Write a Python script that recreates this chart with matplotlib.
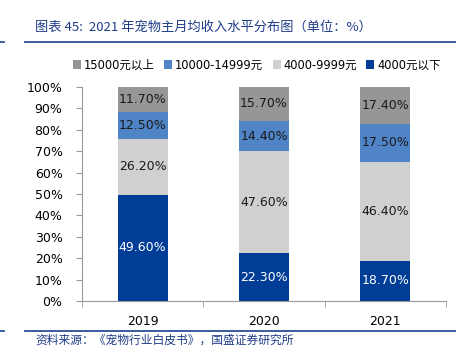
import matplotlib
matplotlib.use("Agg")
import matplotlib.pyplot as plt
from matplotlib.lines import Line2D
from matplotlib.patches import Patch
import numpy as np

plt.rcParams['font.family'] = ['DejaVu Sans', 'Noto Sans CJK SC']

years = ["2019", "2020", "2021"]
series_names = ["15000元以上", "10000-14999元", "4000-9999元", "4000元以下"]
below_4000 = [49.6, 22.3, 18.7]
mid_4000_9999 = [26.2, 47.6, 46.4]
mid_10000_14999 = [12.5, 14.4, 17.5]
above_15000 = [11.7, 15.7, 17.4]
yticks = [0, 10, 20, 30, 40, 50, 60, 70, 80, 90, 100]

colors = {
    "4000元以下": "#003d97",
    "4000-9999元": "#d0d0d0",
    "10000-14999元": "#4f84c6",
    "15000元以上": "#969696",
}
label_colors = {
    "4000元以下": "white",
    "4000-9999元": "#1a1a1a",
    "10000-14999元": "#1a1a1a",
    "15000元以上": "#1a1a1a",
}

fig = plt.figure(figsize=(4.69, 3.49), dpi=100)
ax = fig.add_axes([82 / 469, 48 / 349, 364 / 469, 214 / 349])

x = np.arange(len(years))
stack = [("4000元以下", below_4000), ("4000-9999元", mid_4000_9999),
         ("10000-14999元", mid_10000_14999), ("15000元以上", above_15000)]
bottom = np.zeros(len(years))
for name, vals in stack:
    vals = np.array(vals) / 100.0
    ax.bar(x, vals, 0.41, bottom=bottom, color=colors[name], zorder=2)
    for xi, b, v in zip(x, bottom, vals):
        ax.text(xi, b + v / 2, f"{v * 100:.2f}%", ha="center", va="center",
                fontsize=9, color=label_colors[name], zorder=3)
    bottom = bottom + vals

ax.set_xlim(-0.5, len(years) - 0.5)
ax.set_ylim(0, 1)
ax.set_yticks([t / 100 for t in yticks])
ax.set_yticklabels([f"{t}%" for t in yticks], fontsize=9)
ax.set_xticks(x)
ax.set_xticklabels(years, fontsize=9)
ax.set_xticks(np.arange(len(years) + 1) - 0.5, minor=True)
ax.tick_params(axis="x", which="major", length=0, pad=10)
ax.tick_params(axis="x", which="minor", length=4, color="#999999", direction="out")
ax.tick_params(axis="y", length=4, color="#999999", direction="out", pad=10)
for side in ("top", "right"):
    ax.spines[side].set_visible(False)
for side in ("left", "bottom"):
    ax.spines[side].set_color("#999999")
    ax.spines[side].set_linewidth(0.8)

handles = [Patch(facecolor=colors[n], edgecolor="none") for n in series_names]
fig.legend(handles, series_names, loc="center", bbox_to_anchor=(257 / 469, 1 - 65 / 349),
           ncol=4, frameon=False, handlelength=0.7, handleheight=0.7,
           handletextpad=0.25, columnspacing=0.8,
           prop={"family": ["DejaVu Sans", "Noto Sans CJK SC"], "size": 8.3})

title_color = "#1f3c88"
fig.text(35 / 469, 1 - 27 / 349, "图表 45:  2021 年宠物主月均收入水平分布图（单位：%）",
         fontsize=9.5, color=title_color, va="center", ha="left",
         family=["Noto Sans CJK SC", "DejaVu Sans"])
fig.text(35 / 469, 1 - 340 / 349, "资料来源：《宠物行业白皮书》，国盛证券研究所",
         fontsize=8.5, color=title_color, va="center", ha="left",
         family=["Noto Sans CJK SC", "DejaVu Sans"])

for yy in (41.5, 331):
    fy = 1 - yy / 349
    fig.add_artist(Line2D([25 / 469, 455 / 469], [fy, fy], color="#2a4f9a", lw=1.3))
    fig.add_artist(Line2D([0, 4 / 469], [fy, fy], color="#2a4f9a", lw=1.3))

fig.savefig("out.png", dpi=100)
